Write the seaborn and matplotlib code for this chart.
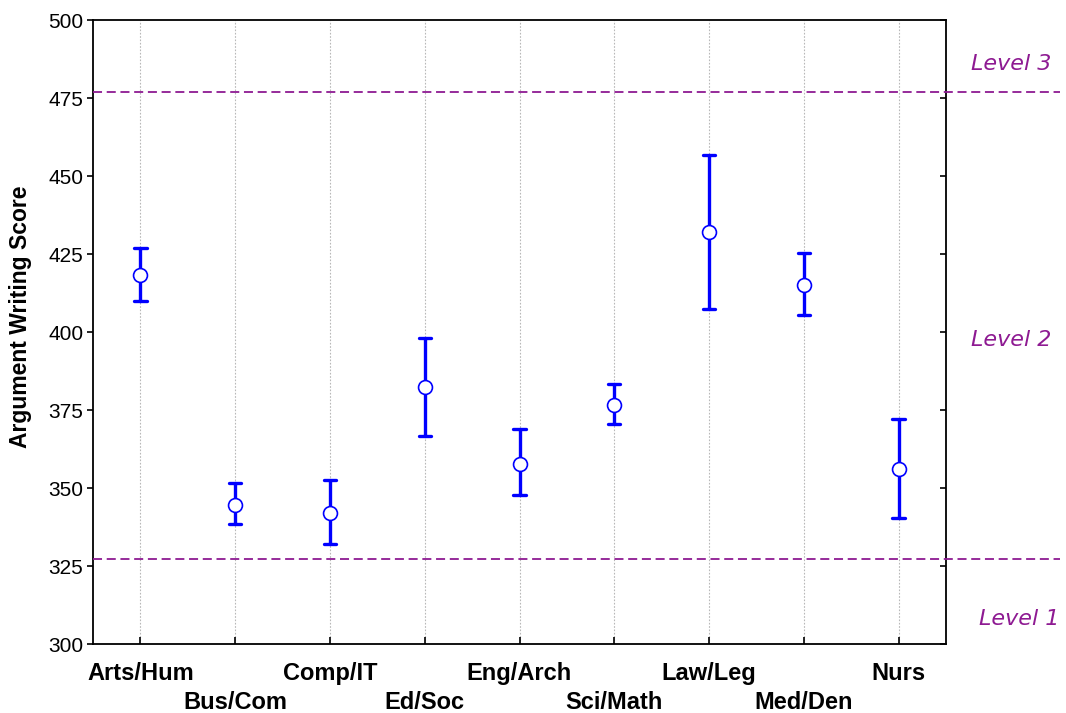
import numpy as np
import pandas as pd
import matplotlib
matplotlib.use("Agg")
import matplotlib.pyplot as plt
from matplotlib.transforms import Bbox
import seaborn as sns

# ---- data ----
categories = ["Arts/Hum", "Bus/Com", "Comp/IT", "Ed/Soc", "Eng/Arch",
              "Sci/Math", "Law/Leg", "Med/Den", "Nurs"]
means = [418.3, 344.6, 342.0, 382.4, 357.8, 376.6, 432.1, 415.2, 356.1]
lower = [410.0, 338.6, 332.2, 366.8, 347.8, 370.6, 407.4, 405.6, 340.5]
upper = [427.0, 351.5, 352.7, 398.2, 369.0, 383.4, 456.8, 425.3, 372.2]
level_values = [327.4, 477.0]
level_labels = ["Level 1", "Level 2", "Level 3"]
level_label_y = [306.0, 395.5, 484.0]
yticks = [300, 325, 350, 375, 400, 425, 450, 475, 500]

# long-form frame: median = centre, min/max = interval ends
rows = []
for c, m, lo, hi in zip(categories, means, lower, upper):
    for v in (lo, m, hi):
        rows.append({"field": c, "score": v})
df = pd.DataFrame(rows)

sns.set_theme(style="white")
plt.rcParams["font.family"] = ["Liberation Sans", "DejaVu Sans"]
plt.rcParams["text.color"] = "black"
plt.rcParams["axes.labelcolor"] = "black"
plt.rcParams["xtick.color"] = "black"
plt.rcParams["ytick.color"] = "black"

fig = plt.figure(figsize=(10.66, 7.13), dpi=100)
ax = fig.add_axes([93 / 1066, 1 - 644 / 713, 853 / 1066, 624 / 713])

purple = "#8E1A92"
blue = "#0000FF"

# vertical dotted grid at categories
for i in range(len(categories)):
    ax.axvline(i, color="#b8b8b8", lw=0.8, ls=(0, (1.5, 1.5)), zorder=0)

sns.pointplot(data=df, x="field", y="score", order=categories,
              estimator="median", errorbar=("pi", 100),
              linestyle="none", marker="o", markersize=10,
              markerfacecolor="white", markeredgecolor=blue,
              markeredgewidth=1.2, color=blue, capsize=0.13,
              err_kws={"linewidth": 2.4, "zorder": 3},
              zorder=5, ax=ax)

# reference level lines extending past the axes
for v in level_values:
    ax.plot([0, 1.134], [v, v], transform=ax.get_yaxis_transform(),
            color=purple, lw=1.3, ls=(0, (5, 2.6)), clip_on=False, zorder=4)

label_x = [1.086, 1.076, 1.077]
for k, (lx, ly, lt) in enumerate(zip(label_x, level_label_y, level_labels)):
    t = ax.text(lx, ly, lt, transform=ax.get_yaxis_transform(), ha="center",
                va="baseline", fontsize=16, style="italic", color=purple,
                family="DejaVu Sans", clip_on=False)
    if k == 2:
        # the top label is cut off at its bottom in the reference
        t.set_clip_on(True)
        t.set_clip_box(Bbox([[900, 713 - 70], [1066, 713]]))

ax.set_xlim(-0.5, len(categories) - 0.5)
ax.set_ylim(300, 500)
ax.set_yticks(yticks)
ax.set_yticklabels([str(t) for t in yticks], fontsize=15, color="black")
ax.set_xticks(range(len(categories)))
ax.set_xticklabels(categories, fontsize=17, fontweight="bold", color="black")
ax.set_xlabel("")
ax.set_ylabel("Argument Writing Score", fontsize=16.5, fontweight="bold",
              color="black")
ax.yaxis.set_label_coords(-0.071, 0.525)

for s in ax.spines.values():
    s.set_color("black")
    s.set_linewidth(1.3)

ax.tick_params(axis="y", which="both", left=True, right=True, direction="out",
               length=4, width=1.2, color="black", pad=3, labelright=False)
for t in ax.yaxis.get_major_ticks():
    t.tick2line.set_marker(matplotlib.lines.TICKLEFT)
ax.tick_params(axis="x", bottom=True, top=False, direction="in",
               length=5, width=1.2, color="black", pad=13)
for i, t in enumerate(ax.xaxis.get_major_ticks()):
    if i % 2 == 1:
        t.set_pad(34)

fig.savefig("out.png", dpi=100, facecolor="white")
